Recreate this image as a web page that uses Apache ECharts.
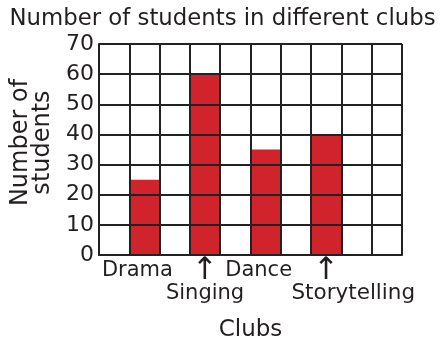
<!DOCTYPE html>
<html>
<head>
<meta charset="utf-8">
<script src="https://cdn.jsdelivr.net/npm/echarts@6/dist/echarts.min.js"></script>
<style>
  html, body { margin: 0; padding: 0; background: #fff; }
  #chart { width: 445px; height: 340px; }
</style>
</head>
<body>
<div id="chart"></div>
<script>
// Club columns (blank columns are empty cells of the grid)
const categories = ['', 'Drama', '', 'Singing', '', 'Dance', '', 'Storytelling', '', ''];
const students = [null, 25, null, 60, null, 35, null, 40, null, null];
const yTicks = ['0', '10', '20', '30', '40', '50', '60', '70'];

const titleText = 'Number of students in different clubs';
const xName = 'Clubs';
const yName = 'Number of\nstudents';

const ink = '#231f20';
const hand = '"Comic Sans MS", "DejaVu Sans", sans-serif';
const plain = '"DejaVu Sans", sans-serif';

// clubs whose label sits on the second row under an arrow
const lowered = { 'Singing': 'b', 'Storytelling': 'c' };

const chart = echarts.init(document.getElementById('chart'), null, { renderer: 'canvas' });

chart.setOption({
  animation: false,
  backgroundColor: '#fff',
  title: {
    text: titleText,
    left: 'center',
    top: 3,
    textStyle: { fontFamily: plain, fontWeight: 'normal', fontSize: 22.8, color: ink }
  },
  grid: { left: 99, right: 43, top: 44, bottom: 85, containLabel: false, outerBoundsMode: 'none' },
  xAxis: {
    type: 'category',
    data: categories,
    name: xName,
    nameLocation: 'middle',
    nameGap: 64,
    nameTextStyle: { fontFamily: hand, fontSize: 23, color: ink },
    axisLine: { show: true, lineStyle: { color: '#222', width: 2 } },
    axisTick: { show: false },
    splitLine: { show: true, interval: 0, lineStyle: { color: '#222', width: 2 } },
    axisLabel: {
      interval: 0,
      margin: 4,
      formatter: function (v) {
        if (!v) return '';
        if (lowered[v]) return '{arr|↑}\n{' + lowered[v] + '|' + v + '}';
        return '{a|' + v + '}';
      },
      rich: {
        a: { fontFamily: hand, fontSize: 21, color: ink, lineHeight: 23, padding: [0, 14, 0, 0] },
        b: { fontFamily: hand, fontSize: 21, color: ink, lineHeight: 23 },
        c: { fontFamily: hand, fontSize: 21.5, color: ink, lineHeight: 23, padding: [0, 0, 0, 54] },
        arr: { fontFamily: plain, fontSize: 31, color: ink, lineHeight: 23 }
      }
    }
  },
  yAxis: {
    type: 'value',
    min: 0,
    max: 70,
    interval: 10,
    name: yName,
    nameLocation: 'middle',
    nameRotate: 90,
    nameGap: 44,
    nameTextStyle: { fontFamily: plain, fontSize: 24, lineHeight: 22, color: ink, padding: [0, 0, 0, 14] },
    axisLine: { show: true, lineStyle: { color: '#222', width: 2 } },
    axisTick: { show: false },
    splitLine: { show: true, lineStyle: { color: '#222', width: 2 } },
    axisLabel: {
      margin: 5,
      fontFamily: plain,
      fontSize: 22,
      color: ink,
      formatter: function (v) { return yTicks[Math.round(v / 10)]; }
    }
  },
  series: [{
    type: 'bar',
    data: students,
    z: -1,
    barCategoryGap: '0%',
    itemStyle: { color: '#d0232b' }
  }]
});
</script>
</body>
</html>
